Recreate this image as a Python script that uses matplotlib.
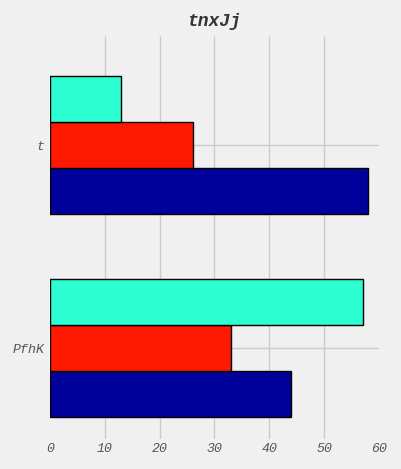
import numpy as np
import matplotlib
matplotlib.use('Agg')
import matplotlib.pyplot as plt

plt.style.use('fivethirtyeight')

categories = ['PfhK', 't']
series_a = [44, 58]   # navy
series_b = [33, 26]   # red
series_c = [57, 13]   # cyan
colors = ['#00009a', '#ff1900', '#2bffd2']
x_ticks = [0, 10, 20, 30, 40, 50, 60]

fig = plt.figure(figsize=(4.02, 4.69), dpi=100, facecolor='#f0f0f0')
ax = fig.add_axes([50/402, 30/469, 329/402, 403/469])
ax.set_facecolor('#f0f0f0')

y = np.arange(len(categories))
h = 0.2266
for k, (vals, c) in enumerate(zip([series_a, series_b, series_c], colors)):
    ax.barh(y + (k - 1) * h, vals, height=h, color=c, edgecolor='black',
            linewidth=1.0, zorder=3)

ax.set_xlim(0, 60)
ax.set_ylim(-0.447, 1.538)
ax.set_xticks(x_ticks)
ax.set_yticks(y)
ax.set_yticklabels(categories)

font = dict(family='Liberation Mono', style='italic')
for lab in ax.get_xticklabels() + ax.get_yticklabels():
    lab.set_fontfamily('Liberation Mono')
    lab.set_fontstyle('italic')
    lab.set_fontsize(9.5)
    lab.set_color('#555555')

ax.tick_params(axis='x', pad=3, length=0)
ax.tick_params(axis='y', pad=4, length=0)
ax.grid(True, color='#cbcbcb', linewidth=1, zorder=0)
gl = ax.get_xgridlines()
gl[0].set_visible(False)
gl[-1].set_visible(False)
for s in ax.spines.values():
    s.set_visible(False)

ax.set_title('tnxJj', fontsize=13, fontweight='bold', color='#333333', pad=7, **font)

fig.savefig('out.png', dpi=100, facecolor='#f0f0f0')
